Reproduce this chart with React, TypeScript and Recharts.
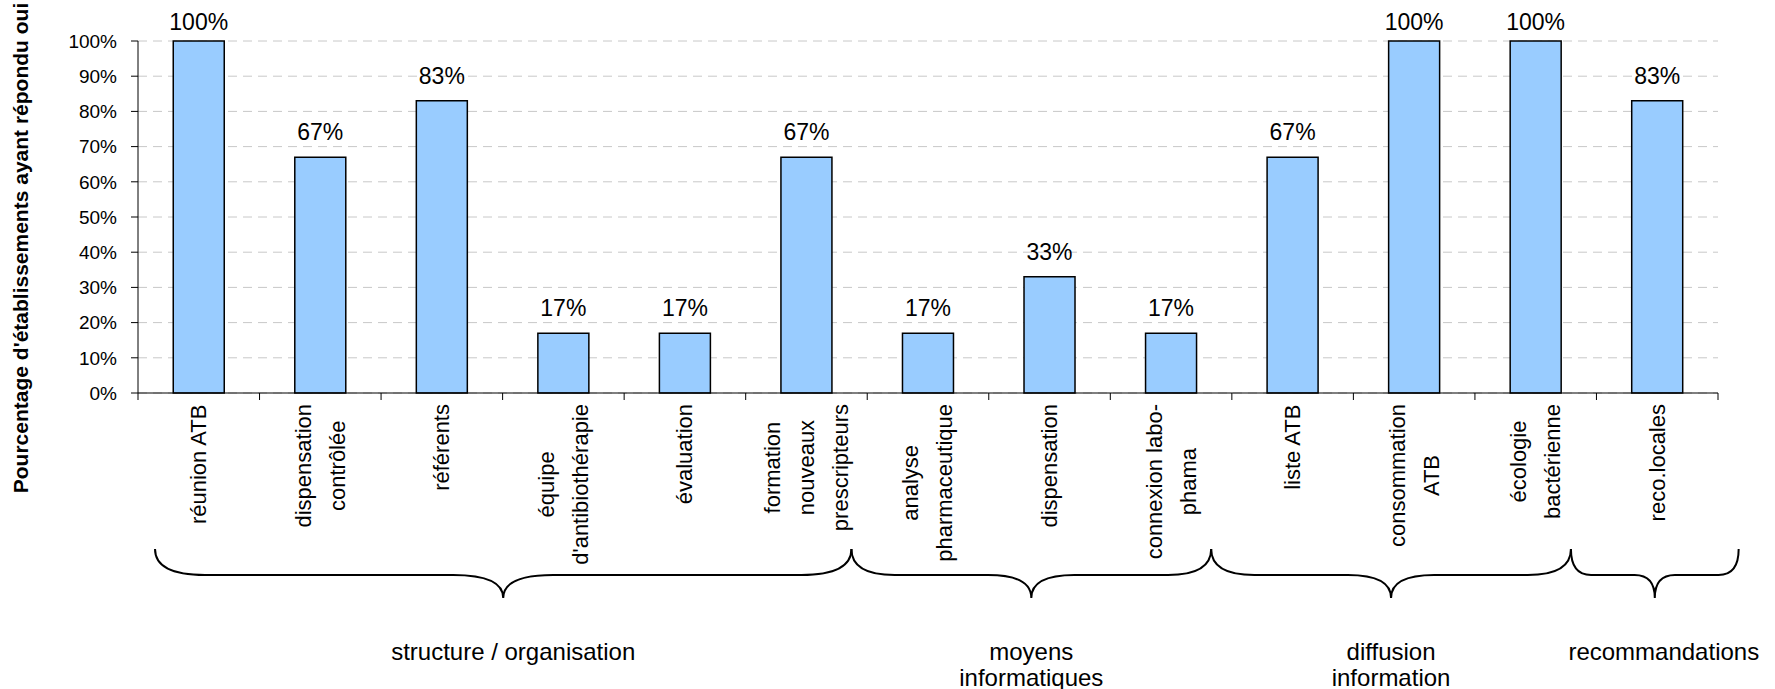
import { BarChart, Bar, XAxis, YAxis, CartesianGrid, LabelList, Customized } from "recharts"

const categories = [
    "réunion ATB",
    "dispensation\ncontrôlée",
    "référents",
    "équipe\nd'antibiothérapie",
    "évaluation",
    "formation\nnouveaux\nprescripteurs",
    "analyse\npharmaceutique",
    "dispensation",
    "connexion labo-\nphama",
    "liste ATB",
    "consommation\nATB",
    "écologie\nbactérienne",
    "reco.locales",
]

const ouiPct = [100, 67, 83, 17, 17, 67, 17, 33, 17, 67, 100, 100, 83]

const yTicks = [0, 10, 20, 30, 40, 50, 60, 70, 80, 90, 100]

const groupNames = ["structure / organisation", "moyens\ninformatiques", "diffusion\ninformation", "recommandations"]

const yTitle = "Pourcentage d'établissements ayant répondu oui"

const data = categories.map((c, i) => ({ name: c, oui: ouiPct[i] }))

// layout
const W = 1775
const H = 689
const Y_AXIS_W = 138
const MARGIN = { top: 41, right: 57, bottom: 0, left: 0 }
const X_AXIS_H = 296
const PLOT_LEFT = MARGIN.left + Y_AXIS_W
const PLOT_W = W - PLOT_LEFT - MARGIN.right
const PLOT_BOTTOM = H - X_AXIS_H
const BAND = PLOT_W / categories.length

// brace spans, in category units from the left of the axis
const braceSpans = [[0.14, 5.87], [5.87, 8.83], [8.83, 11.79], [11.79, 13.17]]
const groupLabelShift = [10, 0, 0, 9]

const FONT = "'Liberation Sans', Arial, sans-serif"
const CAT_SIZE = 22

let ctx: CanvasRenderingContext2D | null = null
function textWidth(s: string, size: number) {
    if (!ctx) ctx = document.createElement("canvas").getContext("2d")
    if (!ctx) return s.length * size * 0.5
    ctx.font = `${size}px ${FONT}`
    return ctx.measureText(s).width
}

function CategoryTick(props: any) {
    const { x, payload, index } = props
    const lines: string[] = String(payload.value).split("\n")
    const maxW = Math.max(...lines.map(l => textWidth(l, CAT_SIZE)))
    const lineGap = 34
    const top = PLOT_BOTTOM + 11
    const cy = top + maxW / 2
    const left = x - BAND / 2
    return (
        <g>
            <line x1={left} x2={left} y1={PLOT_BOTTOM} y2={PLOT_BOTTOM + 7} stroke="#000" />
            {index === categories.length - 1 && (
                <line x1={x + BAND / 2} x2={x + BAND / 2} y1={PLOT_BOTTOM} y2={PLOT_BOTTOM + 7} stroke="#000" />
            )}
            {lines.map((l, i) => {
                const lx = x + (i - (lines.length - 1) / 2) * lineGap
                return (
                    <text
                        key={i}
                        x={lx}
                        y={cy}
                        transform={`rotate(-90 ${lx} ${cy})`}
                        textAnchor="middle"
                        dominantBaseline="central"
                        fontSize={CAT_SIZE}
                        fontFamily={FONT}
                        fill="#000"
                    >
                        {l}
                    </text>
                )
            })}
        </g>
    )
}

// value label above each bar, kept inside the top of the chart
function ValueLabel(props: any) {
    const { x, y, width, value } = props
    const cy = Math.max(y - 25, 22)
    return (
        <text
            x={x + width / 2}
            y={cy}
            textAnchor="middle"
            dominantBaseline="central"
            fontSize={23}
            fontFamily={FONT}
            fill="#000"
        >
            {`${value}%`}
        </text>
    )
}

function bracePath(x0: number, x1: number, yTop: number, yMid: number, yBot: number) {
    const xc = (x0 + x1) / 2
    const r = Math.min(50, (x1 - x0) * 0.12)
    return `M ${x0} ${yTop} Q ${x0} ${yMid} ${x0 + r} ${yMid} L ${xc - r} ${yMid} Q ${xc} ${yMid} ${xc} ${yBot}`
        + ` Q ${xc} ${yMid} ${xc + r} ${yMid} L ${x1 - r} ${yMid} Q ${x1} ${yMid} ${x1} ${yTop}`
}

function Annotations() {
    return (
        <g>
            <text
                x={20}
                y={248}
                transform="rotate(-90 20 248)"
                textAnchor="middle"
                dominantBaseline="central"
                fontSize={21}
                fontWeight="bold"
                fontFamily={FONT}
                fill="#000"
            >
                {yTitle}
            </text>
            {braceSpans.map(([a, b], i) => {
                const x0 = PLOT_LEFT + a * BAND
                const x1 = PLOT_LEFT + b * BAND
                const xc = (x0 + x1) / 2 + groupLabelShift[i]
                const lines = groupNames[i].split("\n")
                return (
                    <g key={i}>
                        <path d={bracePath(x0, x1, 549, 575, 598)} fill="none" stroke="#000" strokeWidth={2} />
                        {lines.map((l, j) => (
                            <text
                                key={j}
                                x={xc}
                                y={651 + j * 26}
                                textAnchor="middle"
                                dominantBaseline="central"
                                fontSize={24}
                                fontFamily={FONT}
                                fill="#000"
                            >
                                {l}
                            </text>
                        ))}
                    </g>
                )
            })}
        </g>
    )
}

export default function App() {
    return (
        <div style={{ position: "fixed", left: 0, top: 0, width: W, height: H, background: "#fff" }}>
            <BarChart width={W} height={H} data={data} margin={MARGIN} barCategoryGap="29%">
                <CartesianGrid vertical={false} stroke="#c8c8c8" strokeDasharray="9 6" />
                <XAxis
                    dataKey="name"
                    height={X_AXIS_H}
                    interval={0}
                    tickLine={false}
                    axisLine={{ stroke: "#000" }}
                    tick={<CategoryTick />}
                />
                <YAxis
                    width={Y_AXIS_W}
                    domain={[0, 100]}
                    ticks={yTicks}
                    interval={0}
                    tickFormatter={(v: number) => `${v}%`}
                    tickSize={7}
                    tickMargin={14}
                    axisLine={{ stroke: "#000" }}
                    tickLine={{ stroke: "#000" }}
                    tick={{ fill: "#000", fontSize: 19, fontFamily: FONT }}
                />
                <Bar dataKey="oui" fill="#99ccff" stroke="#000" strokeWidth={1.5} isAnimationActive={false}>
                    <LabelList dataKey="oui" content={<ValueLabel />} />
                </Bar>
                <Customized component={Annotations} />
            </BarChart>
        </div>
    )
}
